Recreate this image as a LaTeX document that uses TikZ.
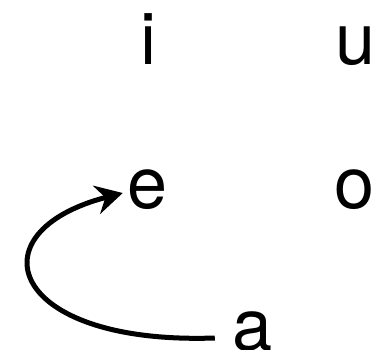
\documentclass[tikz,border=0pt]{standalone}
\usepackage{fontspec}
\setmainfont{TeX Gyre Heros}
\usetikzlibrary{arrows.meta}

\begin{document}
\begin{tikzpicture}[
  x=1pt, y=-1pt,
  vowel/.style={font=\fontsize{72}{80}\selectfont, inner sep=0pt, anchor=base},
  arrow/.style={-{Stealth[length=27pt, width=29pt, inset=9pt]}, line width=5pt}
]
\useasboundingbox (0,0) rectangle (372,350);
\node[vowel] (i) at (148,65) {i};
\node[vowel] (u) at (356,65) {u};
\node[vowel] (e) at (148,208) {e};
\node[vowel] (o) at (355,208) {o};
\node[vowel] (a) at (253,350) {a};
\draw[arrow] ([shift={(-18,-12)}]a.base west) .. controls (8,345) and (-28,232) .. ([shift={(-5,-15)}]e.base west);
\end{tikzpicture}
\end{document}
